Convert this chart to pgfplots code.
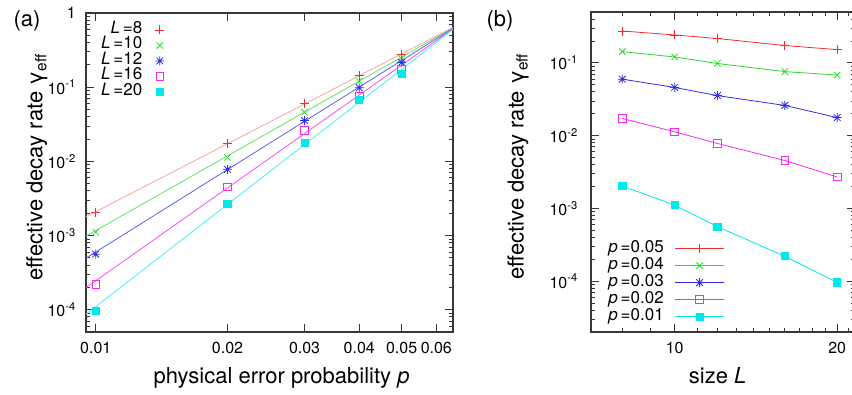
\documentclass[border=0pt]{standalone}
\usepackage{fontspec}
\setmainfont{TeX Gyre Heros}
\usepackage{pgfplots}
\usepackage{pgfplotstable}
\pgfplotsset{compat=1.18}

\definecolor{cR}{RGB}{240,45,45}
\definecolor{cG}{RGB}{45,215,45}
\definecolor{cB}{RGB}{45,45,235}
\definecolor{cM}{RGB}{245,40,245}
\definecolor{cC}{RGB}{0,232,232}
\definecolor{lR}{RGB}{246,165,165}
\definecolor{lG}{RGB}{95,228,95}
\definecolor{lB}{RGB}{95,95,238}
\definecolor{lM}{RGB}{242,80,242}
\definecolor{lC}{RGB}{70,240,240}
\definecolor{axc}{RGB}{55,55,55}

\pgfdeclareplotmark{gpstar}{%
  \pgfpathmoveto{\pgfqpoint{-\pgfplotmarksize}{0pt}}%
  \pgfpathlineto{\pgfqpoint{\pgfplotmarksize}{0pt}}%
  \pgfpathmoveto{\pgfqpoint{0pt}{-\pgfplotmarksize}}%
  \pgfpathlineto{\pgfqpoint{0pt}{\pgfplotmarksize}}%
  \pgfpathmoveto{\pgfqpoint{-.75\pgfplotmarksize}{-.75\pgfplotmarksize}}%
  \pgfpathlineto{\pgfqpoint{.75\pgfplotmarksize}{.75\pgfplotmarksize}}%
  \pgfpathmoveto{\pgfqpoint{-.75\pgfplotmarksize}{.75\pgfplotmarksize}}%
  \pgfpathlineto{\pgfqpoint{.75\pgfplotmarksize}{-.75\pgfplotmarksize}}%
  \pgfusepathqstroke}

% panel (a): markers, gamma_eff vs p for each L
\pgfplotstableread{
p     L8      L10     L12     L16     L20
0.01  2.03e-3 1.11e-3 5.6e-4  2.2e-4  9.6e-5
0.02  0.0172  0.0113  7.8e-3  4.55e-3 2.7e-3
0.03  0.0597  0.0459  0.0355  0.026   0.0177
0.04  0.1426  0.1205  0.098   0.0758  0.068
0.05  0.274   0.242   0.216   0.173   0.152
}\dataA
% panel (a): straight fit lines (end points)
\pgfplotstableread{
p       L8      L10     L12     L16     L20
0.0095  1.79e-3 9.8e-4  4.95e-4 1.98e-4 8.7e-5
0.0655  0.64    0.63    0.62    0.61    0.60
}\fitA
% panel (b): gamma_eff vs L for each p
\pgfplotstableread{
L   p05    p04    p03    p02     p01
8   0.274  0.1426 0.0597 0.0172  2.03e-3
10  0.242  0.1205 0.0459 0.0113  1.11e-3
12  0.216  0.098  0.0355 7.8e-3  5.6e-4
16  0.173  0.0758 0.026  4.55e-3 2.2e-4
20  0.152  0.068  0.0177 2.7e-3  9.6e-5
}\dataB

\pgfplotsset{
  gp/.style={
    scale only axis,
    axis line style={line width=1.1pt, axc},
    tick style={line width=0.8pt, axc},
    major tick length=8pt, minor tick length=4pt,
    tick align=inside,
    tick label style={font=\fontsize{16}{18}\selectfont, inner sep=0pt},
    label style={font=\fontsize{22}{26}\selectfont},
    xticklabel style={anchor=north, yshift=-10pt},
  }
}

\begin{document}
\begin{tikzpicture}[x=1pt,y=1pt]
\useasboundingbox (0,0) rectangle (852,394);

\begin{loglogaxis}[gp,
  at={(86pt,62pt)}, anchor=south west,
  width=367pt, height=319pt,
  xmin=0.0095, xmax=0.0655,
  ymin=5e-5, ymax=1,
  xtick={0.01,0.02,0.03,0.04,0.05,0.06},
  xticklabels={0.01,0.02,0.03,0.04,0.05,0.06},
  minor xtick={},
  ytick={1e-4,1e-3,1e-2,1e-1,1},
  yticklabels={10\textsuperscript{-4},10\textsuperscript{-3},10\textsuperscript{-2},10\textsuperscript{-1},1},
  minor ytick={6e-5,7e-5,8e-5,9e-5,2e-4,3e-4,4e-4,5e-4,6e-4,7e-4,8e-4,9e-4,2e-3,3e-3,4e-3,5e-3,6e-3,7e-3,8e-3,9e-3,2e-2,3e-2,4e-2,5e-2,6e-2,7e-2,8e-2,9e-2,0.2,0.3,0.4,0.5,0.6,0.7,0.8,0.9},
  yticklabel style={anchor=east, xshift=-10pt},
  xlabel={physical error probability \textit{p}},
  ylabel={effective decay rate γ\textsubscript{eff}},
  xlabel style={at={(axis description cs:0.533,0)}, anchor=base, yshift=-51pt},
  ylabel style={at={(axis description cs:-0.134,0.516)}, anchor=center},
  legend style={draw=none, fill=none, at={(axis description cs:0.03,0.978)}, anchor=north west,
    font=\fontsize{17}{18}\selectfont, nodes={inner sep=1pt, text height=10pt, text depth=3.5pt},
    row sep=0pt, column sep=12pt},
  legend cell align=right, legend plot pos=right,
]
\addplot[forget plot, lR, line width=0.8pt] table[x=p,y=L8]{\fitA};
\addplot[forget plot, lG, line width=0.8pt] table[x=p,y=L10]{\fitA};
\addplot[forget plot, lB, line width=0.8pt] table[x=p,y=L12]{\fitA};
\addplot[forget plot, lM, line width=0.8pt] table[x=p,y=L16]{\fitA};
\addplot[forget plot, lC, line width=0.8pt] table[x=p,y=L20]{\fitA};
\addplot[only marks, cR, mark=+, mark size=4.5pt, line width=0.8pt] table[x=p,y=L8]{\dataA};
\addplot[only marks, cG, mark=x, mark size=4.5pt, line width=0.8pt] table[x=p,y=L10]{\dataA};
\addplot[only marks, cB, mark=gpstar, mark size=4.5pt, line width=0.8pt] table[x=p,y=L12]{\dataA};
\addplot[only marks, cM, mark=square, mark size=3.8pt, line width=0.8pt] table[x=p,y=L16]{\dataA};
\addplot[only marks, cC, mark=square*, mark size=3.6pt, line width=0.8pt] table[x=p,y=L20]{\dataA};
\legend{\textit{L}\,=8,\textit{L}\,=10,\textit{L}\,=12,\textit{L}\,=16,\textit{L}\,=20}
\end{loglogaxis}

\begin{loglogaxis}[gp,
  at={(591pt,62pt)}, anchor=south west,
  width=264pt, height=320pt,
  xmin=7, xmax=21.58,
  ymin=2e-5, ymax=0.5,
  xtick={10,20},
  xticklabels={10,20},
  minor xtick={7,8,9,11,12,13,14,15,16,17,18,19,21},
  ytick={1e-4,1e-3,1e-2,1e-1},
  yticklabels={10\textsuperscript{-4},10\textsuperscript{-3},10\textsuperscript{-2},10\textsuperscript{-1}},
  minor ytick={3e-5,4e-5,5e-5,6e-5,7e-5,8e-5,9e-5,2e-4,3e-4,4e-4,5e-4,6e-4,7e-4,8e-4,9e-4,2e-3,3e-3,4e-3,5e-3,6e-3,7e-3,8e-3,9e-3,2e-2,3e-2,4e-2,5e-2,6e-2,7e-2,8e-2,9e-2,0.2,0.3,0.4},
  yticklabel style={anchor=east, xshift=-13pt},
  xlabel={size \textit{L}},
  ylabel={effective decay rate γ\textsubscript{eff}},
  xlabel style={at={(axis description cs:0.48,0)}, anchor=base, yshift=-51pt},
  ylabel style={at={(axis description cs:-0.2765,0.517)}, anchor=center},
  legend style={draw=none, fill=none, at={(axis description cs:0.05,0.294)}, anchor=north west,
    font=\fontsize{17}{18}\selectfont, nodes={inner sep=1pt, text height=11pt, text depth=4pt},
    row sep=0pt, column sep=10pt},
  legend cell align=right, legend plot pos=right,
  legend image code/.code={\draw[mark repeat=2, mark phase=2, #1] plot coordinates {(0pt,0pt) (24.5pt,0pt) (49pt,0pt)};},
]
\addplot[color=cR, mark=+, mark size=4.5pt, line width=0.8pt] table[x=L,y=p05]{\dataB};
\addplot[color=cG, mark=x, mark size=4.5pt, line width=0.8pt] table[x=L,y=p04]{\dataB};
\addplot[color=cB, mark=gpstar, mark size=4.5pt, line width=0.8pt] table[x=L,y=p03]{\dataB};
\addplot[color=cM, mark=square, mark size=3.8pt, line width=0.8pt] table[x=L,y=p02]{\dataB};
\addplot[color=cC, mark=square*, mark size=3.6pt, line width=0.8pt] table[x=L,y=p01]{\dataB};
\legend{\textit{p}\,=0.05,\textit{p}\,=0.04,\textit{p}\,=0.03,\textit{p}\,=0.02,\textit{p}\,=0.01}
\end{loglogaxis}

\node[anchor=west, font=\fontsize{22}{26}\selectfont] at (10,373) {(a)};
\node[anchor=west, font=\fontsize{22}{26}\selectfont] at (483,373) {(b)};
\end{tikzpicture}
\end{document}
